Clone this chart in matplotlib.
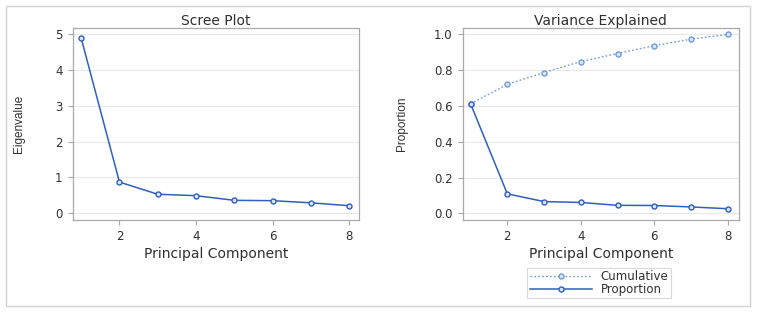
import matplotlib
matplotlib.use("Agg")
import matplotlib.pyplot as plt
from matplotlib.patches import Rectangle

# ---- data ----
components = [1, 2, 3, 4, 5, 6, 7, 8]
eigenvalues = [4.90, 0.87, 0.53, 0.49, 0.36, 0.35, 0.29, 0.21]
proportion = [0.612, 0.109, 0.066, 0.061, 0.045, 0.044, 0.036, 0.026]
cumulative = [0.612, 0.721, 0.787, 0.848, 0.893, 0.937, 0.973, 1.000]
x_ticks = [2, 4, 6, 8]
scree_yticks = [0, 1, 2, 3, 4, 5]
var_yticks = [0.0, 0.2, 0.4, 0.6, 0.8, 1.0]

# ---- style ----
plt.rcParams['font.family'] = ['DejaVu Sans']
TEXT = '#303030'
FRAME = '#a9a9a9'
GRID = '#e9e9e9'
BLUE = '#2f5fbf'
LIGHT = '#6e9be0'

ylab_kw = dict(family=['Liberation Sans', 'DejaVu Sans'], fontsize=8.5)

fig = plt.figure(figsize=(7.57, 3.12), dpi=100)
fig.patches.append(Rectangle((5.7/757, 6/312), 744/757, 300.3/312, transform=fig.transFigure,
                             fill=False, edgecolor='#d4d4d4', linewidth=1.0))

H = 312.0
def mkax(left_px, right_px):
    return fig.add_axes([left_px/757, (H-220)/H, (right_px-left_px)/757, (220-28.3)/H])

axL = mkax(72.7, 359.3)
axR = mkax(462.7, 738.7)

def style(ax):
    for s in ax.spines.values():
        s.set_color(FRAME)
        s.set_linewidth(0.9)
    ax.tick_params(direction='out', length=3.8, width=0.8, color=FRAME,
                   labelsize=8.5, labelcolor=TEXT, pad=3.5)
    ax.grid(axis='y', color=GRID, linewidth=0.9)
    ax.set_axisbelow(True)
    ax.set_xticks(x_ticks)

mk = dict(marker='o', markersize=3.6, markerfacecolor='#dbe6f7', markeredgewidth=1.0)

# Scree plot
style(axL)
axL.plot(components, eigenvalues, color=BLUE, linewidth=1.1, markeredgecolor=BLUE, **mk)
axL.set_xlim(0.78, 8.26)
axL.set_ylim(-0.19, 5.17)
axL.set_yticks(scree_yticks)
axL.set_title('Scree Plot', fontsize=10, color=TEXT, pad=2)
axL.set_xlabel('Principal Component', fontsize=10, color=TEXT, labelpad=3)
axL.set_ylabel('Eigenvalue', color=TEXT, **ylab_kw)
axL.yaxis.set_label_coords(-0.166, 0.5)

# Variance explained
style(axR)
axR.plot(components, cumulative, color=LIGHT, linewidth=1.0, linestyle=(0, (1.2, 1.6)),
         markeredgecolor=LIGHT, label='Cumulative', **mk)
axR.plot(components, proportion, color=BLUE, linewidth=1.1, markeredgecolor=BLUE,
         label='Proportion', **mk)
axR.set_xlim(0.785, 8.3)
axR.set_ylim(-0.037, 1.034)
axR.set_yticks(var_yticks)
axR.set_yticklabels([f'{v:.1f}' for v in var_yticks])
axR.set_title('Variance Explained', fontsize=10, color=TEXT, pad=2)
axR.set_xlabel('Principal Component', fontsize=10, color=TEXT, labelpad=3)
axR.set_ylabel('Proportion', color=TEXT, **ylab_kw)
axR.yaxis.set_label_coords(-0.198, 0.5)

leg = fig.legend(*axR.get_legend_handles_labels(), loc='center',
                 bbox_to_anchor=(599/757, (H-283)/H), fontsize=8.5, frameon=True,
                 fancybox=False, handlelength=5.3, handletextpad=0.7,
                 borderpad=0.2, labelspacing=0.0, borderaxespad=0)
leg.get_frame().set_edgecolor('#cfcfcf')
leg.get_frame().set_linewidth(0.8)
for t in leg.get_texts():
    t.set_color(TEXT)

fig.savefig('out.png', dpi=100)
